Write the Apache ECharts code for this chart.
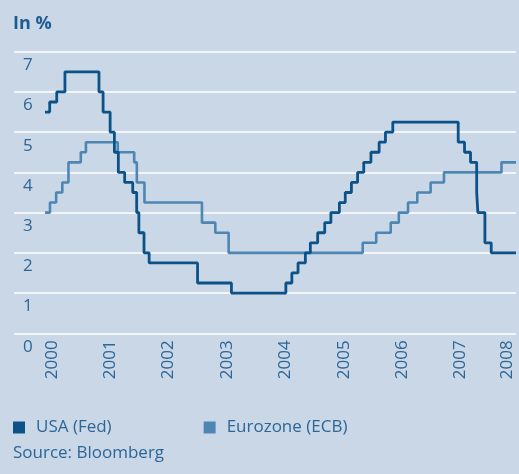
<!DOCTYPE html>
<html>
<head>
<meta charset="utf-8">
<script src="https://cdn.jsdelivr.net/npm/echarts@6/dist/echarts.min.js"></script>
<style>
html,body{margin:0;padding:0;background:#CAD7E7;}
#chart{width:519px;height:474px;}
</style>
</head>
<body>
<div id="chart"></div>
<script>
// Policy rates in %, step changes (date the rate took effect, rate)
const fedDates = ['2000-01-01','2000-02-02','2000-03-21','2000-05-16','2001-01-03','2001-01-31','2001-03-20','2001-04-18','2001-05-15','2001-06-27','2001-08-21','2001-09-17','2001-10-02','2001-11-06','2001-12-11','2002-11-06','2003-06-25','2004-06-30','2004-08-10','2004-09-21','2004-11-10','2004-12-14','2005-02-02','2005-03-22','2005-05-03','2005-06-30','2005-08-09','2005-09-20','2005-11-01','2005-12-13','2006-01-31','2006-03-28','2006-05-10','2006-06-29','2007-09-18','2007-10-31','2007-12-11','2008-01-22','2008-01-30','2008-03-18','2008-04-30','2008-10-16'];
const fedRates = [5.5,5.75,6.0,6.5,6.0,5.5,5.0,4.5,4.0,3.75,3.5,3.0,2.5,2.0,1.75,1.25,1.0,1.25,1.5,1.75,2.0,2.25,2.5,2.75,3.0,3.25,3.5,3.75,4.0,4.25,4.5,4.75,5.0,5.25,4.75,4.5,4.25,3.5,3.0,2.25,2.0,2.0];
const ecbDates = ['2000-01-01','2000-02-04','2000-03-17','2000-04-28','2000-06-09','2000-09-01','2000-10-06','2001-05-11','2001-08-31','2001-09-18','2001-11-09','2002-12-06','2003-03-07','2003-06-06','2005-12-06','2006-03-08','2006-06-15','2006-08-09','2006-10-11','2006-12-13','2007-03-14','2007-06-13','2008-07-09','2008-10-16'];
const ecbRates = [3.0,3.25,3.5,3.75,4.25,4.5,4.75,4.5,4.25,3.75,3.25,2.75,2.5,2.0,2.25,2.5,2.75,3.0,3.25,3.5,3.75,4.0,4.25,4.25];
const yearLabels = [2000,2001,2002,2003,2004,2005,2006,2007,2008];
const yTicks = [0,1,2,3,4,5,6,7];
const seriesNames = ['USA (Fed)','Eurozone (ECB)'];
const startDate = '2000-01-01';
const endDate = '2008-10-16';

const FONT = 'Open Sans';
const TXT = '#2C6697';
const FED = '#0A5287';
const ECB = '#4E86B3';

const chart = echarts.init(document.getElementById('chart'), null, {renderer:'canvas'});
const gTop = 51.7, gBottom = 474 - 333.3;

chart.setOption({
  backgroundColor: '#CAD7E7',
  animation: false,
  textStyle: {fontFamily: FONT},
  title: [
    {text: 'In %', left: 13, top: 15, padding: 0, textStyle: {fontFamily: FONT, fontSize: 18, fontWeight: 'bold', color: '#1D5C8F'}},
    {text: 'Source: Bloomberg', left: 13, top: 445, padding: 0, textStyle: {fontFamily: FONT, fontSize: 17, fontWeight: 'normal', color: TXT}}
  ],
  legend: {
    data: seriesNames,
    left: 13, top: 419, padding: 0,
    itemWidth: 12, itemHeight: 12, itemGap: 92,
    icon: 'rect',
    textStyle: {fontFamily: FONT, fontSize: 17, color: TXT, padding: [0,0,0,6]}
  },
  grid: [
    {left: 45, right: 3, top: gTop, bottom: gBottom},      // data
    {left: 51.7, right: -1.3, top: gTop, bottom: gBottom}, // year labels
    {left: 14, right: 3, top: gTop, bottom: gBottom}       // gridlines + y labels
  ],
  xAxis: [
    {type: 'time', gridIndex: 0, min: startDate, max: endDate, show: false},
    {type: 'value', gridIndex: 1, min: yearLabels[0], max: yearLabels[yearLabels.length-1],
     axisLine: {show: false}, axisTick: {show: false}, splitLine: {show: false},
     axisLabel: {
       customValues: yearLabels.map((y, i) => i === yearLabels.length - 1 ? y - 0.2 : y),
       formatter: v => String(Math.round(v)),
       rotate: 90, margin: 7, fontFamily: FONT, fontSize: 17, color: TXT
     }},
    {type: 'value', gridIndex: 2, min: 0, max: 1, show: false}
  ],
  yAxis: [
    {type: 'value', gridIndex: 0, min: 0, max: 7, show: false},
    {type: 'value', gridIndex: 1, min: 0, max: 7, show: false},
    {type: 'value', gridIndex: 2, min: yTicks[0], max: yTicks[yTicks.length-1], interval: 1,
     axisLine: {show: false}, axisTick: {show: false},
     splitLine: {show: true, lineStyle: {color: '#FFFFFF', width: 1.5}},
     axisLabel: {inside: true, align: 'left', verticalAlign: 'top', padding: [5,0,0,1],
       fontFamily: FONT, fontSize: 17, color: TXT}}
  ],
  series: [
    {name: seriesNames[1], type: 'line', xAxisIndex: 0, yAxisIndex: 0, step: 'end', showSymbol: false,
     color: ECB, lineStyle: {color: ECB, width: 2.6},
     data: ecbDates.map((d, i) => [d, ecbRates[i]])},
    {name: seriesNames[0], type: 'line', xAxisIndex: 0, yAxisIndex: 0, step: 'end', showSymbol: false,
     color: FED, lineStyle: {color: FED, width: 2.8},
     data: fedDates.map((d, i) => [d, fedRates[i]])}
  ]
});
</script>
</body>
</html>
